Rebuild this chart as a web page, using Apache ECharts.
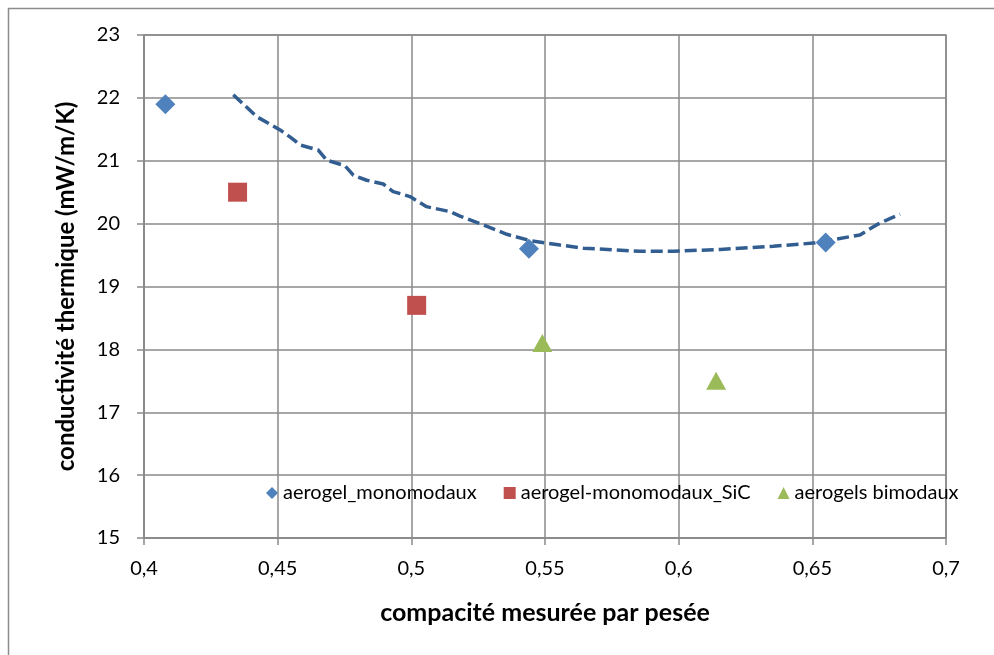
<!DOCTYPE html>
<html>
<head>
<meta charset="utf-8">
<script src="https://cdn.jsdelivr.net/npm/echarts@6/dist/echarts.min.js"></script>
<style>html,body{margin:0;padding:0;background:#fff;}#chart{width:994px;height:655px;}</style>
</head>
<body>
<div id="chart"></div>
<script>
const xTitle = 'compacité mesurée par pesée';
const yTitle = 'conductivité thermique (mW/m/K)';
const seriesNames = ['aerogel_monomodaux', 'aerogel-monomodaux_SiC', 'aerogels bimodaux'];

const monoX = [0.408, 0.544, 0.655];
const monoY = [21.9, 19.6, 19.7];
const sicX = [0.435, 0.502];
const sicY = [20.5, 18.7];
const bimoX = [0.549, 0.614];
const bimoY = [18.1, 17.5];

const trendX = [0.4334, 0.4422, 0.4509, 0.4552, 0.4584, 0.4652, 0.4683, 0.4752, 0.4783, 0.4833, 0.4895, 0.4932, 0.4995, 0.5057, 0.5145, 0.5182, 0.5269, 0.5357, 0.5444, 0.5556, 0.5643, 0.5855, 0.598, 0.6155, 0.6354, 0.6503, 0.6678, 0.674, 0.679, 0.6828];
const trendY = [22.05, 21.70, 21.49, 21.36, 21.25, 21.17, 21.01, 20.92, 20.77, 20.69, 20.63, 20.51, 20.43, 20.27, 20.19, 20.12, 19.98, 19.83, 19.73, 19.66, 19.61, 19.56, 19.56, 19.59, 19.64, 19.69, 19.82, 19.98, 20.08, 20.15];

const zip = (xs, ys) => xs.map((x, i) => [x, ys[i]]);
const FONT = "Lato, 'Open Sans', sans-serif";
const GRID = '#8a8a8a';

const chart = echarts.init(document.getElementById('chart'), null, {renderer: 'canvas'});
chart.setOption({
  animation: false,
  backgroundColor: '#fff',
  graphic: [{
    type: 'rect', left: 6, top: 6, z: -10,
    shape: {width: 1100, height: 800},
    style: {fill: 'none', stroke: '#8c8c8c', lineWidth: 1.5}
  }],
  grid: {left: 144, top: 35, width: 802, height: 503, show: true, borderColor: GRID, borderWidth: 1.5, backgroundColor: 'transparent'},
  legend: {
    data: seriesNames,
    left: 261, top: 478,
    itemWidth: 12, itemHeight: 12, itemGap: 27,
    textStyle: {fontFamily: FONT, fontSize: 20, color: '#000'}
  },
  xAxis: {
    type: 'value', min: 0.4, max: 0.7, interval: 0.05,
    name: xTitle, nameLocation: 'middle', nameGap: 62,
    nameTextStyle: {fontFamily: FONT, fontSize: 25, fontWeight: 'bold', color: '#000'},
    axisLine: {show: true, lineStyle: {color: GRID, width: 1.5}},
    axisTick: {show: true, length: 7, lineStyle: {color: GRID, width: 1.5}},
    axisLabel: {fontFamily: FONT, fontSize: 20, color: '#000', margin: 21,
      formatter: v => String(+v.toFixed(2)).replace('.', ',')},
    splitLine: {show: true, lineStyle: {color: GRID, width: 1.5}}
  },
  yAxis: {
    type: 'value', min: 15, max: 23, interval: 1,
    name: yTitle, nameLocation: 'middle', nameGap: 66, nameRotate: 90,
    nameTextStyle: {fontFamily: FONT, fontSize: 24, fontWeight: 'bold', color: '#000'},
    axisLine: {show: true, lineStyle: {color: GRID, width: 1.5}},
    axisTick: {show: true, length: 7, lineStyle: {color: GRID, width: 1.5}},
    axisLabel: {fontFamily: FONT, fontSize: 20, color: '#000', margin: 24},
    splitLine: {show: true, lineStyle: {color: GRID, width: 1.5}}
  },
  series: [
    {
      name: 'trend', type: 'line', data: zip(trendX, trendY), showSymbol: false, smooth: false,
      lineStyle: {color: '#325d91', width: 3.5, type: [12, 5]}, z: 3, silent: true
    },
    {
      name: seriesNames[0], type: 'scatter', data: zip(monoX, monoY),
      symbol: 'diamond', symbolSize: 20, itemStyle: {color: '#4f81bd', opacity: 1}, z: 4
    },
    {
      name: seriesNames[1], type: 'scatter', data: zip(sicX, sicY),
      symbol: 'rect', symbolSize: 19, itemStyle: {color: '#c0504d', opacity: 1}, z: 4
    },
    {
      name: seriesNames[2], type: 'scatter', data: zip(bimoX, bimoY),
      symbol: 'triangle', symbolSize: [20, 18], itemStyle: {color: '#9bbb59', opacity: 1}, z: 4
    }
  ]
});
</script>
</body>
</html>
